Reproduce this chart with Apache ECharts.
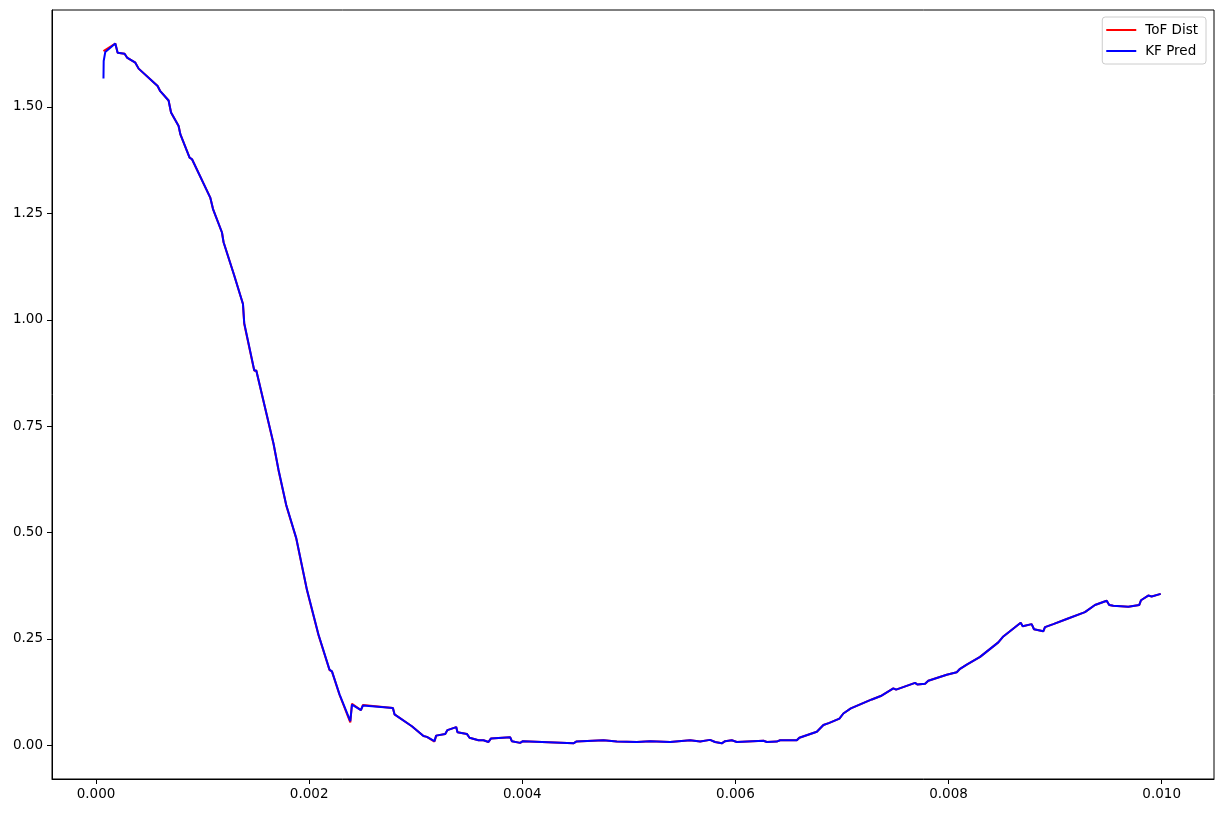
<!DOCTYPE html>
<html>
<head>
<meta charset="utf-8">
<script src="https://cdn.jsdelivr.net/npm/echarts@6/dist/echarts.min.js"></script>
<style>
  html, body { margin: 0; padding: 0; background: #fff; }
  #chart { width: 1223px; height: 813px; }
</style>
</head>
<body>
<div id="chart"></div>
<script>
// time stamps (s)
var time = [
  0.000070, 0.000072, 0.000087, 0.000181, 0.000203, 0.000268, 0.000291, 0.000369, 0.000400, 0.000578,
  0.000603, 0.000681, 0.000704, 0.000775, 0.000791, 0.000878, 0.000901, 0.001072, 0.001098, 0.001182,
  0.001197, 0.001297, 0.001379, 0.001391, 0.001485, 0.001504, 0.001666, 0.001713, 0.001785, 0.001879,
  0.001979, 0.002088, 0.002191, 0.002214, 0.002285, 0.002298, 0.002386, 0.002402, 0.002486, 0.002505,
  0.002786, 0.002801, 0.002964, 0.003073, 0.003105, 0.003176, 0.003192, 0.003277, 0.003298, 0.003380,
  0.003392, 0.003480, 0.003505, 0.003589, 0.003636, 0.003683, 0.003705, 0.003887, 0.003902, 0.003980,
  0.004006, 0.004480, 0.004506, 0.004762, 0.004887, 0.005075, 0.005200, 0.005387, 0.005575, 0.005669,
  0.005762, 0.005809, 0.005872, 0.005903, 0.005966, 0.006013, 0.006263, 0.006295, 0.006388, 0.006419,
  0.006576, 0.006600, 0.006764, 0.006826, 0.006882, 0.006976, 0.007013, 0.007083, 0.007101, 0.007280,
  0.007364, 0.007482, 0.007508, 0.007686, 0.007707, 0.007780, 0.007810, 0.007983, 0.008077, 0.008108,
  0.008171, 0.008296, 0.008467, 0.008514, 0.008677, 0.008696, 0.008780, 0.008802, 0.008889, 0.008905,
  0.008983, 0.009109, 0.009280, 0.009374, 0.009484, 0.009508, 0.009546, 0.009687, 0.009790, 0.009806,
  0.009874, 0.009906, 0.009991
];

// Kalman filter prediction
var kfPred = [
  1.567, 1.608, 1.629, 1.649, 1.627, 1.625, 1.616, 1.604, 1.590, 1.549,
  1.537, 1.515, 1.487, 1.455, 1.436, 1.381, 1.377, 1.287, 1.260, 1.205,
  1.182, 1.104, 1.037, 0.992, 0.881, 0.881, 0.709, 0.647, 0.565, 0.487,
  0.366, 0.260, 0.178, 0.174, 0.120, 0.117, 0.057, 0.096, 0.083, 0.094,
  0.088, 0.073, 0.045, 0.022, 0.020, 0.010, 0.023, 0.027, 0.036, 0.043,
  0.031, 0.027, 0.018, 0.012, 0.012, 0.008, 0.016, 0.019, 0.010, 0.006,
  0.010, 0.005, 0.009, 0.012, 0.009, 0.008, 0.010, 0.008, 0.012, 0.009,
  0.013, 0.008, 0.005, 0.010, 0.012, 0.008, 0.011, 0.008, 0.009, 0.012,
  0.012, 0.018, 0.032, 0.048, 0.053, 0.063, 0.075, 0.087, 0.086, 0.108,
  0.116, 0.134, 0.131, 0.147, 0.143, 0.145, 0.152, 0.166, 0.172, 0.180,
  0.190, 0.208, 0.242, 0.256, 0.288, 0.280, 0.285, 0.273, 0.268, 0.278,
  0.285, 0.297, 0.313, 0.330, 0.340, 0.330, 0.328, 0.326, 0.330, 0.341,
  0.352, 0.350, 0.356
];

// time-of-flight distance measurement
var tofDist = [
  1.631, 1.631, 1.632, 1.649, 1.627, 1.625, 1.616, 1.604, 1.590, 1.549,
  1.537, 1.515, 1.487, 1.455, 1.436, 1.381, 1.377, 1.287, 1.260, 1.205,
  1.182, 1.104, 1.037, 0.990, 0.880, 0.881, 0.708, 0.646, 0.564, 0.486,
  0.365, 0.259, 0.177, 0.174, 0.119, 0.117, 0.054, 0.098, 0.083, 0.095,
  0.088, 0.073, 0.045, 0.022, 0.020, 0.009, 0.023, 0.027, 0.036, 0.043,
  0.031, 0.027, 0.018, 0.012, 0.012, 0.008, 0.016, 0.019, 0.010, 0.006,
  0.010, 0.005, 0.009, 0.012, 0.009, 0.008, 0.010, 0.008, 0.012, 0.009,
  0.013, 0.008, 0.005, 0.010, 0.012, 0.008, 0.011, 0.008, 0.009, 0.012,
  0.012, 0.018, 0.032, 0.048, 0.053, 0.063, 0.075, 0.087, 0.086, 0.108,
  0.116, 0.134, 0.131, 0.147, 0.143, 0.145, 0.152, 0.166, 0.172, 0.180,
  0.190, 0.208, 0.242, 0.256, 0.288, 0.280, 0.285, 0.273, 0.268, 0.278,
  0.285, 0.297, 0.313, 0.330, 0.340, 0.330, 0.328, 0.326, 0.330, 0.341,
  0.352, 0.350, 0.356
];

var xTicks = [0, 0.002, 0.004, 0.006, 0.008, 0.010];
var yTicks = [0, 0.25, 0.5, 0.75, 1.0, 1.25, 1.5];

function pairs(xs, ys) {
  var out = [];
  for (var i = 0; i < xs.length; i++) out.push([xs[i], ys[i]]);
  return out;
}

var font = 'DejaVu Sans';
var chart = echarts.init(document.getElementById('chart'), null, { renderer: 'canvas' });

var option = {
  animation: false,
  backgroundColor: '#fff',
  grid: {
    left: 52, right: 9, top: 10, bottom: 34,
    show: true, borderColor: '#000', borderWidth: 1, backgroundColor: 'transparent'
  },
  legend: {
    orient: 'vertical',
    right: 17, top: 17,
    padding: [6, 8, 6, 4],
    itemGap: 7,
    itemWidth: 30, itemHeight: 2,
    icon: 'rect',
    borderColor: '#cccccc', borderWidth: 1, borderRadius: 3,
    backgroundColor: '#fff',
    textStyle: { fontFamily: font, fontSize: 13.5, color: '#000', padding: [0, 0, 0, 4] },
    data: ['ToF Dist', 'KF Pred']
  },
  xAxis: {
    type: 'value',
    min: -0.000413, max: 0.010491,
    axisLine: { show: true, onZero: false, lineStyle: { color: '#000', width: 1 } },
    axisTick: { show: true, inside: false, length: 5, lineStyle: { color: '#000' }, customValues: xTicks },
    axisLabel: {
      customValues: xTicks,
      margin: 8,
      fontFamily: font, fontSize: 13.5, color: '#000',
      formatter: function (v) { return v.toFixed(3); }
    },
    splitLine: { show: false }
  },
  yAxis: {
    type: 'value',
    min: -0.0789, max: 1.7277,
    axisLine: { show: true, onZero: false, lineStyle: { color: '#000', width: 1 } },
    axisTick: { show: true, inside: false, length: 5, lineStyle: { color: '#000' }, customValues: yTicks },
    axisLabel: {
      customValues: yTicks,
      margin: 9,
      fontFamily: font, fontSize: 13.5, color: '#000',
      formatter: function (v) { return v.toFixed(2); }
    },
    splitLine: { show: false }
  },
  series: [
    {
      name: 'ToF Dist',
      type: 'line',
      data: pairs(time, tofDist),
      showSymbol: false,
      color: '#ff0000',
      lineStyle: { color: '#ff0000', width: 2 },
      z: 2
    },
    {
      name: 'KF Pred',
      type: 'line',
      data: pairs(time, kfPred),
      showSymbol: false,
      color: '#0000ff',
      lineStyle: { color: '#0000ff', width: 2 },
      z: 3
    }
  ]
};

chart.setOption(option);
</script>
</body>
</html>
